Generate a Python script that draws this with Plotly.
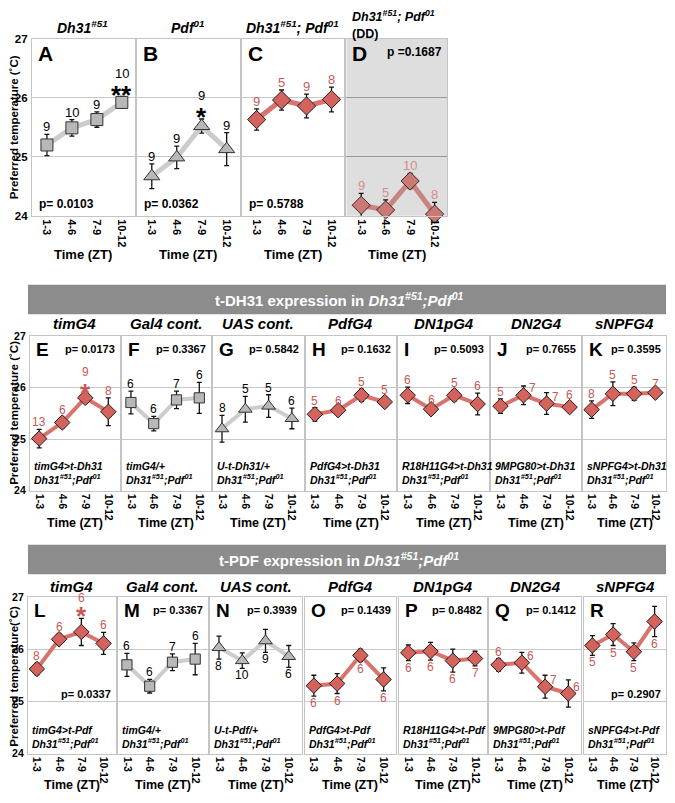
import plotly.graph_objects as go

# ---- data ----
zt = ["1-3", "4-6", "7-9", "10-12"]

# top row: mutants
A_mean = [25.20, 25.49, 25.63, 25.92]; A_err = [0.18, 0.14, 0.13, 0.10]; A_n = [9, 10, 9, 10]
B_mean = [24.67, 24.99, 25.52, 25.13]; B_err = [0.21, 0.19, 0.12, 0.28]; B_n = [9, 9, 9, 9]
C_mean = [25.63, 25.96, 25.86, 25.97]; C_err = [0.18, 0.17, 0.20, 0.21]; C_n = [9, 5, 9, 8]
D_mean = [24.18, 24.10, 24.59, 24.03]; D_err = [0.20, 0.17, 0.13, 0.20]; D_n = [9, 5, 10, 8]

# middle row: t-DH31 rescue
E_mean = [25.01, 25.32, 25.80, 25.53]; E_err = [0.18, 0.10, 0.06, 0.27]; E_n = [13, 6, 9, 8]
F_mean = [25.71, 25.30, 25.76, 25.80]; F_err = [0.22, 0.14, 0.17, 0.30]; F_n = [6, 6, 7, 6]
G_mean = [25.20, 25.58, 25.64, 25.40]; G_err = [0.26, 0.25, 0.22, 0.20]; G_n = [8, 5, 5, 6]
H_mean = [25.48, 25.56, 25.85, 25.72]; H_err = [0.13, 0.05, 0.12, 0.10]; H_n = [5, 6, 5, 5]
I_mean = [25.85, 25.58, 25.85, 25.68]; I_err = [0.16, 0.05, 0.11, 0.21]; I_n = [6, 6, 5, 6]
J_mean = [25.64, 25.85, 25.69, 25.62]; J_err = [0.14, 0.18, 0.21, 0.09]; J_n = [5, 7, 7, 6]
K_mean = [25.57, 25.88, 25.88, 25.90]; K_err = [0.17, 0.23, 0.13, 0.04]; K_n = [8, 5, 5, 7]

# bottom row: t-PDF rescue
L_mean = [25.62, 26.19, 26.33, 26.11]; L_err = [0.11, 0.10, 0.26, 0.21]; L_n = [8, 6, 6, 6]
M_mean = [25.70, 25.29, 25.75, 25.81]; M_err = [0.22, 0.13, 0.16, 0.30]; M_n = [6, 6, 7, 6]
N_mean = [26.03, 25.78, 26.16, 25.86]; N_err = [0.22, 0.15, 0.22, 0.21]; N_n = [8, 10, 9, 6]
O_mean = [25.30, 25.34, 25.88, 25.42]; O_err = [0.20, 0.19, 0.12, 0.22]; O_n = [6, 6, 6, 6]
P_mean = [25.93, 25.96, 25.78, 25.82]; P_err = [0.15, 0.17, 0.22, 0.14]; P_n = [6, 6, 6, 7]
Q_mean = [25.70, 25.74, 25.28, 25.15]; Q_err = [0.12, 0.20, 0.22, 0.26]; Q_n = [6, 6, 7, 6]
R_mean = [26.07, 26.28, 25.95, 26.53]; R_err = [0.19, 0.21, 0.17, 0.29]; R_n = [5, 5, 5, 6]

p_values = {"A": "p= 0.0103", "B": "p= 0.0362", "C": "p= 0.5788", "D": "p =0.1687",
            "E": "p= 0.0173", "F": "p= 0.3367", "G": "p= 0.5842", "H": "p= 0.1632",
            "I": "p= 0.5093", "J": "p= 0.7655", "K": "p= 0.3595",
            "L": "p= 0.0337", "M": "p= 0.3367", "N": "p= 0.3939", "O": "p= 0.1439",
            "P": "p= 0.8482", "Q": "p= 0.1412", "R": "p= 0.2907"}

DH = "Dh31<sup>#51</sup>"
PDF = "Pdf<sup>01</sup>"
mid_titles = ["timG4", "Gal4 cont.", "UAS cont.", "PdfG4", "DN1pG4", "DN2G4", "sNPFG4"]
mid_geno = ["timG4>t-Dh31", "timG4/+", "U-t-Dh31/+", "PdfG4>t-Dh31",
            "R18H11G4>t-Dh31", "9MPG80>t-Dh31", "sNPFG4>t-Dh31"]
bot_geno = ["timG4>t-Pdf", "timG4/+", "U-t-Pdf/+", "PdfG4>t-Pdf",
            "R18H11G4>t-Pdf", "9MPG80>t-Pdf", "sNPFG4>t-Pdf"]

# ---- geometry / styles ----
# page body has an 8px margin, so the figure is drawn 8px in from the window edge
OFF = 8
W, H = 675 - 2 * OFF, 803 - 2 * OFF
def px(x): return min(1.0, max(0.0, (x - OFF) / W))
def py(y): return min(1.0, max(0.0, 1 - (y - OFF) / H))

RED_LINE, RED_MK, RED_TXT = "#d9736d", "#d4625d", "#c85a55"
DD_LINE, DD_MK, DD_TXT = "#c98480", "#cc7873", "#d48e8a"
GR_LINE, GR_MK = "#cccccc", "#b8b8b8"
FONT = "Arial, Liberation Sans, Helvetica, sans-serif"

rows = {
    "top": dict(y=(33, 213), xr=[-0.6, 3.52], ms=1.0, lw=5, nfs=13),
    "mid": dict(y=(335, 492), xr=[-0.4, 3.5], ms=0.85, lw=4, nfs=12),
    "bot": dict(y=(600, 759), xr=[-0.4, 3.55], ms=0.85, lw=4, nfs=12),
}

# letter, row, x-extent(px), mean, err, n, style, label placement
panels = [
    ("A", "top", (32, 135), A_mean, A_err, A_n, "gsq", "aaaa"),
    ("B", "top", (137, 240), B_mean, B_err, B_n, "gtri", "aaaa"),
    ("C", "top", (242, 345), C_mean, C_err, C_n, "red", "aaaa"),
    ("D", "top", (347, 448), D_mean, D_err, D_n, "dd", "aaaa"),
    ("E", "mid", (30, 120), E_mean, E_err, E_n, "red", "aaaa"),
    ("F", "mid", (122, 211), F_mean, F_err, F_n, "gsq", "aaaa"),
    ("G", "mid", (213, 304), G_mean, G_err, G_n, "gtri", "aaaa"),
    ("H", "mid", (306, 397), H_mean, H_err, H_n, "red", "aaaa"),
    ("I", "mid", (399, 490), I_mean, I_err, I_n, "red", "aaaa"),
    ("J", "mid", (492, 582), J_mean, J_err, J_n, "red", "arra"),
    ("K", "mid", (584, 667), K_mean, K_err, K_n, "red", "aaaa"),
    ("L", "bot", (28, 116), L_mean, L_err, L_n, "red", "aaaa"),
    ("M", "bot", (118, 208), M_mean, M_err, M_n, "gsq", "aaaa"),
    ("N", "bot", (210, 302), N_mean, N_err, N_n, "gtri", "bbbb"),
    ("O", "bot", (305, 397), O_mean, O_err, O_n, "red", "bbbb"),
    ("P", "bot", (400, 488), P_mean, P_err, P_n, "red", "bbbb"),
    ("Q", "bot", (490, 582), Q_mean, Q_err, Q_n, "red", "arrr"),
    ("R", "bot", (585, 667), R_mean, R_err, R_n, "red", "bbbb"),
]
stars = {"A": (3, "**", "black"), "B": (2, "*", "black"),
         "E": (2, "*", RED_TXT), "L": (2, "*", RED_TXT)}

fig = go.Figure()
annotations = []
shapes = []
layout = {}


def ann(**kw):
    kw.setdefault("showarrow", False)
    kw.setdefault("xanchor", "center")
    kw.setdefault("yanchor", "middle")
    annotations.append(kw)


for k, (let, row, (x0, x1), mean, err, n, sty, place) in enumerate(panels, start=1):
    r = rows[row]
    sfx = "" if k == 1 else str(k)
    xa, ya = f"x{sfx}", f"y{sfx}"
    if sty == "gsq":
        mk = dict(symbol="square", size=12 * r["ms"], color=GR_MK, line=dict(color="#333", width=1))
        lc, tc = GR_LINE, "black"
    elif sty == "gtri":
        mk = dict(symbol="triangle-up", size=14 * r["ms"], color=GR_MK, line=dict(color="#333", width=1))
        lc, tc = GR_LINE, "black"
    elif sty == "red":
        mk = dict(symbol="diamond", size=14 * r["ms"], color=RED_MK, line=dict(color="#2a1a1a", width=1))
        lc, tc = RED_LINE, RED_TXT
    else:
        mk = dict(symbol="diamond", size=14 * r["ms"], color=DD_MK, line=dict(color="#3a2a2a", width=1))
        lc, tc = DD_LINE, DD_TXT

    fig.add_trace(go.Scatter(
        x=zt, y=mean, xaxis=xa, yaxis=ya, mode="lines+markers",
        line=dict(color=lc, width=r["lw"]), marker=mk, showlegend=False, cliponaxis=False,
        error_y=dict(type="data", array=err, color="#111", thickness=1.3, width=2.5)))

    first = let in ("A", "E", "L")
    layout[f"xaxis{sfx}"] = dict(
        domain=[px(x0), px(x1)], anchor=ya, type="category", categoryorder="array",
        categoryarray=zt, range=r["xr"], tickangle=90, showgrid=False, zeroline=False,
        showline=True, mirror=True, linecolor="#c4c4c4", linewidth=1.2, ticks="",
        tickfont=dict(family=FONT, size=11 if row == "top" else 10.5, color="black", weight="bold"),
        fixedrange=True)
    layout[f"yaxis{sfx}"] = dict(
        domain=[py(r["y"][1]), py(r["y"][0])], anchor=xa, range=[24, 27],
        tickvals=[24, 25, 26, 27], showticklabels=first, showgrid=True,
        gridcolor="#9a9a9a" if sty == "dd" else "#c8c8c8", gridwidth=1, zeroline=False,
        showline=True, mirror=True, linecolor="#c4c4c4", linewidth=1.2, ticks="",
        ticklabelstandoff=1,
        tickfont=dict(family=FONT, size=11.5 if row == "top" else 10.5, color="black", weight="bold"),
        fixedrange=True)

    if sty == "dd":
        shapes.append(dict(type="rect", xref=f"{xa} domain", yref=f"{ya} domain",
                           x0=0, x1=1, y0=0, y1=1, fillcolor="#dedede", line_width=0, layer="below"))

    # n labels and stars
    for i in range(4):
        extra = 0
        if let in stars and stars[let][0] == i:
            si, stxt, scol = stars[let]
            ann(xref=xa, yref=ya, x=i, y=mean[i] + err[i], text=f"<b>{stxt}</b>", yshift=2,
                font=dict(family=FONT, size=26, color=scol))
            extra = 13 if let == "L" else 16
        p = place[i]
        if p == "a":
            ann(xref=xa, yref=ya, x=i, y=mean[i] + err[i], text=str(n[i]), yanchor="bottom",
                yshift=extra - 2, font=dict(family=FONT, size=r["nfs"], color=tc))
        elif p == "b":
            ann(xref=xa, yref=ya, x=i, y=mean[i] - err[i], text=str(n[i]), yanchor="top",
                yshift=2, font=dict(family=FONT, size=r["nfs"], color=tc))
        else:
            ann(xref=xa, yref=ya, x=i, y=mean[i], text=str(n[i]), xanchor="left",
                xshift=3, yshift=7, font=dict(family=FONT, size=r["nfs"], color=tc))

    # panel letter
    ann(xref=f"{xa} domain", yref=f"{ya} domain", x=0, y=1, xshift=4, yshift=-1,
        xanchor="left", yanchor="top", text=f"<b>{let}</b>",
        font=dict(family=FONT, size=21 if row == "top" else 19, color="black"))

    # p value
    pfs = 12 if row == "top" else 11
    if row == "top" and let != "D":
        pv = dict(x=0, y=0, xshift=5, yshift=3, xanchor="left", yanchor="bottom")
    elif let in ("L", "R"):
        pv = dict(x=1, y=0.38, xshift=-3, xanchor="right", yanchor="middle")
    else:
        pv = dict(x=1, y=1, xshift=-3, yshift=-4 if row == "top" else -5, xanchor="right", yanchor="top")
    ann(xref=f"{xa} domain", yref=f"{ya} domain", text=f"<b>{p_values[let]}</b>",
        font=dict(family=FONT, size=pfs, color="black"), **pv)

    # x title
    ty = {"top": 252, "mid": 525, "bot": 791}[row]
    ann(xref="paper", yref="paper", x=px((x0 + x1) / 2), y=py(ty), text="<b>Time (ZT)</b>",
        font=dict(family=FONT, size=13 if row == "top" else 12.5, color="black"))

# column titles
top_titles = [(83, f"{DH}"), (188, f"{PDF}"), (293, f"{DH}; {PDF}")]
for xc, t in top_titles:
    ann(xref="paper", yref="paper", x=px(xc), y=py(21), text=f"<b><i>{t}</i></b>",
        font=dict(family=FONT, size=14, color="black"))
ann(xref="paper", yref="paper", x=px(351), y=py(19), xanchor="left", align="left",
    text=f"<b><i>{DH}; {PDF}</i><br>(DD)</b>", font=dict(family=FONT, size=12.5, color="black"))

mid_x = [panels[k][2] for k in range(4, 11)]
bot_x = [panels[k][2] for k in range(11, 18)]
for (x0, x1), t in zip(mid_x, mid_titles):
    ann(xref="paper", yref="paper", x=px((x0 + x1) / 2), y=py(322), text=f"<b><i>{t}</i></b>",
        font=dict(family=FONT, size=15, color="black"))
for (x0, x1), t in zip(bot_x, mid_titles):
    ann(xref="paper", yref="paper", x=px((x0 + x1) / 2), y=py(589), text=f"<b><i>{t}</i></b>",
        font=dict(family=FONT, size=15, color="black"))

# genotype captions
for (x0, x1), t in zip(mid_x, mid_geno):
    ann(xref="paper", yref="paper", x=px(x0 + 2), y=py(489), xanchor="left", yanchor="bottom",
        align="left", text=f"<b><i>{t}<br>{DH};{PDF}</i></b>",
        font=dict(family=FONT, size=10.5, color="black"))
for (x0, x1), t in zip(bot_x, bot_geno):
    ann(xref="paper", yref="paper", x=px(x0 + 2), y=py(757), xanchor="left", yanchor="bottom",
        align="left", text=f"<b><i>{t}<br>{DH};{PDF}</i></b>",
        font=dict(family=FONT, size=10.5, color="black"))

# y titles
for yc, t in [(123, "Preferred temperature (˚C)"), (413, "Preferred temperature (˚C)"),
              (680, "Preferred temperature(˚C)")]:
    ann(xref="paper", yref="paper", x=px(14), y=py(yc), textangle=-90, text=f"<b>{t}</b>",
        font=dict(family=FONT, size=11.5, color="black"))

# banners
for y0, t in [(283, "t-DH31 expression in"), (547, "t-PDF expression in")]:
    shapes.append(dict(type="rect", xref="paper", yref="paper", x0=px(28), x1=1,
                       y0=py(y0 + 30), y1=py(y0), fillcolor="#8c8c8c", line_width=0))
    ann(xref="paper", yref="paper", x=px(340), y=py(y0 + 15),
        text=f"<b>{t} <i>{DH};{PDF}</i></b>", font=dict(family=FONT, size=15, color="white"))

fig.update_layout(
    width=W, height=H, margin=dict(l=0, r=0, t=0, b=0),
    paper_bgcolor="white", plot_bgcolor="rgba(0,0,0,0)",
    annotations=annotations, shapes=shapes, showlegend=False, **layout)

fig.write_html("out.html")
